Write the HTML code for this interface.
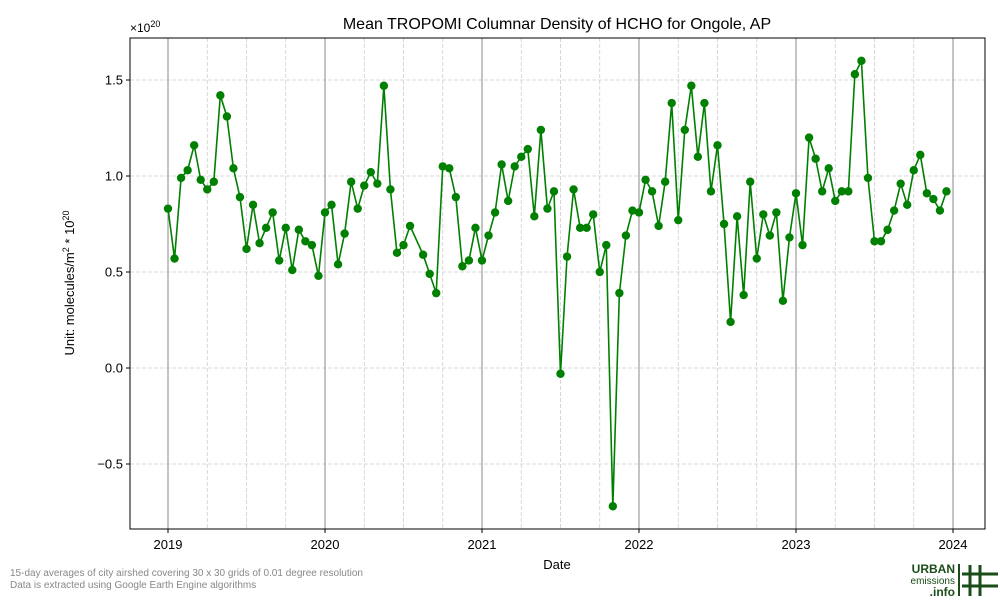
<!DOCTYPE html>
<html><head><meta charset="utf-8"><style>
body{margin:0;background:#fff;font-family:"Liberation Sans",sans-serif}
svg text{font-family:"Liberation Sans","DejaVu Sans",sans-serif}
</style></head><body>
<svg width="1000" height="600" id="c">
<text x="557" y="29" font-size="16" text-anchor="middle">Mean TROPOMI Columnar Density of HCHO for Ongole, AP</text>
<text x="130" y="32" font-size="12">×10<tspan dy="-5" font-size="9">20</tspan></text>
<text x="557" y="569" font-size="13" text-anchor="middle">Date</text>
<text transform="translate(74,283) rotate(-90)" font-size="13" text-anchor="middle">Unit: molecules/m<tspan dy="-5" font-size="9">2</tspan><tspan dy="5"> * 10</tspan><tspan dy="-5" font-size="9">20</tspan></text>
<text x="10" y="576" font-size="10" fill="#888">15-day averages of city airshed covering 30 x 30 grids of 0.01 degree resolution</text>
<text x="10" y="588" font-size="10" fill="#888">Data is extracted using Google Earth Engine algorithms</text>
<g>
<text x="955" y="573" font-size="12" font-weight="bold" fill="#1a4d1a" text-anchor="end">URBAN</text>
<text x="955" y="584" font-size="10" fill="#1a4d1a" text-anchor="end">emissions</text>
<text x="955" y="596" font-size="12" font-weight="bold" fill="#1a4d1a" text-anchor="end">.info</text>
<rect x="958" y="564" width="2" height="32" fill="#1a4d1a"/>
<g stroke="#1a4d1a" stroke-width="3"><line x1="970" y1="565" x2="970" y2="596"/><line x1="980" y1="565" x2="980" y2="596"/><line x1="962" y1="574" x2="998" y2="574"/><line x1="962" y1="586" x2="998" y2="586"/></g>
</g>
<g id="plot"></g>
</svg>
<script>
const yearsList=[2019,2020,2021,2022,2023,2024];
const yTicks=[-0.5,0,0.5,1.0,1.5];
const yTickLabels=["−0.5","0.0","0.5","1.0","1.5"];
// dates: "year+k" => k-th half-month period of year
const dates=[];
const slots={2019:[...Array(24).keys()],2020:[0,1,2,3,4,5,6,7,8,9,10,11,12,13,15,16,17,18,19,20,21,22,23],2021:[...Array(24).keys()],2022:[...Array(24).keys()],2023:[...Array(24).keys()]};
for(const y in slots)for(const k of slots[y])dates.push(y+"+"+k);
const values=[0.83,0.57,0.99,1.03,1.16,0.98,0.93,0.97,1.42,1.31,1.04,0.89,0.62,0.85,0.65,0.73,0.81,0.56,0.73,0.51,0.72,0.66,0.64,0.48,
0.81,0.85,0.54,0.70,0.97,0.83,0.95,1.02,0.96,1.47,0.93,0.60,0.64,0.74,0.59,0.49,0.39,1.05,1.04,0.89,0.53,0.56,0.73,
0.56,0.69,0.81,1.06,0.87,1.05,1.10,1.14,0.79,1.24,0.83,0.92,-0.03,0.58,0.93,0.73,0.73,0.80,0.50,0.64,-0.72,0.39,0.69,0.82,
0.81,0.98,0.92,0.74,0.97,1.38,0.77,1.24,1.47,1.10,1.38,0.92,1.16,0.75,0.24,0.79,0.38,0.97,0.57,0.80,0.69,0.81,0.35,0.68,0.91,
0.64,1.20,1.09,0.92,1.04,0.87,0.92,0.92,1.53,1.60,0.99,0.66,0.66,0.72,0.82,0.96,0.85,1.03,1.11,0.91,0.88,0.82,0.92];
const L=130,R=985,T=38,B=529;
const xs=t=>168+(t-2019)*157;
const ys=v=>368-v*192;
const tOf=d=>{const [y,k]=d.split("+").map(Number);return y+k/24;};
const NS="http://www.w3.org/2000/svg",g=document.getElementById("plot");
function mk(tag,attrs,parent){const e=document.createElementNS(NS,tag);for(const a in attrs)e.setAttribute(a,attrs[a]);(parent||g).appendChild(e);return e;}
const grid=mk("g",{});


yearsList.concat([2018]).forEach(y=>{for(let m=1;m<4;m++){const x=xs(y+m/4);if(x>L&&x<R)mk("line",{x1:x,x2:x,y1:T,y2:B,stroke:"#ccc","stroke-width":0.8,"stroke-dasharray":"4,2"},grid);}});
yTicks.forEach(v=>{const y=ys(v);mk("line",{x1:L,x2:R,y1:y,y2:y,stroke:"#ccc","stroke-width":0.8,"stroke-dasharray":"4,2"},grid);});
yearsList.forEach(y=>{const x=xs(y);mk("line",{x1:x,x2:x,y1:T,y2:B,stroke:"#888","stroke-width":1},grid);
const t=mk("text",{x:x,y:B+20,"font-size":13,"text-anchor":"middle"});t.textContent=y;


mk("line",{x1:x,x2:x,y1:B,y2:B+4,stroke:"#000"});});
yTicks.forEach((v,i)=>{const y=ys(v);mk("line",{x1:L-4,x2:L,y1:y,y2:y,stroke:"#000"});
const t=mk("text",{x:L-7,y:y+4.5,"font-size":13,"text-anchor":"end"});t.textContent=yTickLabels[i];

});
const pts=dates.map((d,i)=>[xs(tOf(d)),ys(values[i])]);
const line=mk("polyline",{points:pts.map(p=>p.join(",")).join(" "),fill:"none",stroke:"#008000","stroke-width":1.6});


pts.forEach(p=>{const c=mk("circle",{cx:p[0],cy:p[1],r:4.2,fill:"#008000"});

});
const fr=mk("rect",{x:L,y:T,width:R-L,height:B-T,fill:"none",stroke:"#000","stroke-width":1});


</script>
</body></html>
